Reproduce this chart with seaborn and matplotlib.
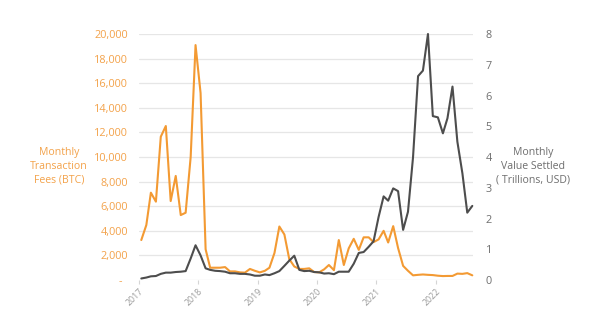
import matplotlib
matplotlib.use("Agg")
import matplotlib.pyplot as plt
import matplotlib.dates as mdates
from matplotlib.ticker import FuncFormatter, MultipleLocator
import numpy as np
import pandas as pd
import seaborn as sns

# ---- data (Jan 2017 .. Aug 2022, monthly) ----
fees_btc = [
    3250, 4470, 7100, 6370, 11650, 12520, 6420, 8460, 5280, 5470, 10000, 19100,
    15200, 2500, 1000, 1000, 1000, 1050, 700, 700, 620, 600, 900, 750,
    620, 750, 1000, 2200, 4350, 3700, 1700, 1100, 900, 900, 950, 650,
    620, 870, 1220, 800, 3250, 1220, 2570, 3350, 2450, 3470, 3470, 3080,
    3300, 4000, 3050, 4380, 2600, 1150, 750, 380, 420, 450, 420, 400,
    350, 320, 330, 330, 520, 500, 560, 380,
]
value_settled_tn = [
    0.05, 0.08, 0.12, 0.13, 0.20, 0.24, 0.24, 0.26, 0.27, 0.29, 0.70, 1.13,
    0.80, 0.38, 0.33, 0.30, 0.29, 0.27, 0.22, 0.22, 0.20, 0.20, 0.18, 0.14,
    0.14, 0.18, 0.16, 0.22, 0.29, 0.46, 0.63, 0.79, 0.33, 0.29, 0.30, 0.26,
    0.25, 0.21, 0.22, 0.19, 0.27, 0.27, 0.27, 0.53, 0.88, 0.91, 1.08, 1.26,
    2.05, 2.72, 2.58, 2.98, 2.89, 1.63, 2.22, 3.99, 6.63, 6.81, 8.00, 5.33,
    5.29, 4.77, 5.26, 6.29, 4.50, 3.47, 2.19, 2.41,
]
year_labels = ["2017", "2018", "2019", "2020", "2021", "2022"]
left_label = "Monthly\nTransaction\nFees (BTC)"
right_label = "Monthly\nValue Settled\n( Trillions, USD)"

months = pd.date_range("2017-01-01", periods=len(fees_btc), freq="MS") + pd.Timedelta(days=14)
df = pd.DataFrame({"month": months, "fees": fees_btc, "value": value_settled_tn})

ORANGE = "#F39A33"
ORANGE_TXT = "#F3A24A"
GRAY = "#4D4D4D"
GRAY_TXT = "#6E6E6E"

sns.set_theme(style="white")
plt.rcParams["font.family"] = ["Open Sans", "DejaVu Sans"]

fig = plt.figure(figsize=(6, 3.22), dpi=100)
ax = fig.add_axes([0.2317, 0.1304, 0.5571, 0.764])
ax2 = ax.twinx()

sns.lineplot(data=df, x="month", y="fees", ax=ax, color=ORANGE, lw=1.5)
sns.lineplot(data=df, x="month", y="value", ax=ax2, color=GRAY, lw=1.5)
for l in ax.lines + ax2.lines:
    l.set_clip_on(False)

ax.set_ylim(0, 20000)
ax2.set_ylim(0, 8)
ax.set_xlim(pd.Timestamp("2017-01-01"), pd.Timestamp("2022-08-21"))

ax.yaxis.set_major_locator(MultipleLocator(2000))
ax2.yaxis.set_major_locator(MultipleLocator(1))
ax.yaxis.set_major_formatter(FuncFormatter(lambda v, p: "-  " if v == 0 else f"{int(v):,}"))
ax2.yaxis.set_major_formatter(FuncFormatter(lambda v, p: f"{int(v)}"))

ax.set_xticks([pd.Timestamp(f"{y}-01-01") for y in year_labels])
ax.set_xticklabels(year_labels, rotation=45, ha="right", rotation_mode="anchor",
                   fontsize=6.3, color="#9A9A9A")

ax.yaxis.grid(True, color="#E6E6E6", lw=0.9)
ax.set_axisbelow(True)
for a in (ax, ax2):
    for s in a.spines.values():
        s.set_visible(False)
    a.set_xlabel("")
    a.set_ylabel("")

ax.tick_params(axis="y", length=0, pad=8, labelsize=7.8, labelcolor=ORANGE_TXT)
ax2.tick_params(axis="y", length=0, pad=9, labelsize=7.8, labelcolor=GRAY_TXT)
ax.tick_params(axis="x", length=3, width=0.8, color="#D5D5D5", pad=2, direction="out")
ax.xaxis.set_tick_params(bottom=True)

fig.text(0.098, 0.484, left_label, ha="center", va="center", color=ORANGE_TXT,
         fontsize=7.6, linespacing=1.3)
fig.text(0.889, 0.484, right_label, ha="center", va="center", color=GRAY_TXT,
         fontsize=7.6, linespacing=1.3)

fig.savefig("out.png", dpi=100)
